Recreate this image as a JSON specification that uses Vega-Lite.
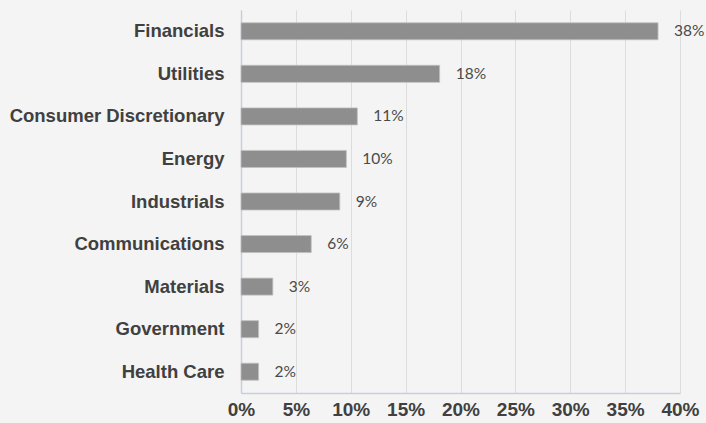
{
  "$schema": "https://vega.github.io/schema/vega-lite/v6.json",
  "autosize": {"type": "none"},
  "width": 439,
  "height": 383,
  "padding": {"left": 241, "top": 10, "right": 26, "bottom": 30},
  "background": "#f4f4f4",
  "config": {"view": {"stroke": null}},
  "data": {"values": [
    {"sector": "Financials", "value": 0.380},
    {"sector": "Utilities", "value": 0.181},
    {"sector": "Consumer Discretionary", "value": 0.106},
    {"sector": "Energy", "value": 0.096},
    {"sector": "Industrials", "value": 0.090},
    {"sector": "Communications", "value": 0.064},
    {"sector": "Materials", "value": 0.029},
    {"sector": "Government", "value": 0.016},
    {"sector": "Health Care", "value": 0.016}
  ]},
  "encoding": {
    "y": {"field": "sector", "type": "nominal", "sort": null, "title": null,
      "scale": {"paddingInner": 0.6, "paddingOuter": 0.3},
      "axis": {"labelFont": "Liberation Sans", "labelFontWeight": "bold", "labelFontSize": 18.5, "labelColor": "#404040", "labelPadding": 17, "labelLimit": 400, "ticks": false, "domain": true, "domainColor": "#c5d0dc", "domainWidth": 1.5}},
    "x": {"field": "value", "type": "quantitative", "title": null,
      "scale": {"domain": [0, 0.4], "nice": false},
      "axis": {"format": ".0%", "values": [0, 0.05, 0.1, 0.15, 0.2, 0.25, 0.3, 0.35, 0.4], "labelFont": "Liberation Sans", "labelFontWeight": "bold", "labelFontSize": 19, "labelColor": "#404040", "labelPadding": 7, "ticks": false, "domainColor": "#c5d0dc", "domainWidth": 1.5, "grid": true, "gridColor": "#dcdcdc", "gridWidth": 1, "labelFlush": false}}
  },
  "layer": [
    {"mark": {"type": "bar", "color": "#8e8e8e", "stroke": "#c0c0c0", "strokeWidth": 0.8}},
    {"mark": {"type": "text", "align": "left", "baseline": "middle", "dx": 16, "font": "Lato", "fontSize": 15.5, "color": "#4a4a4a"},
     "encoding": {"text": {"field": "value", "type": "quantitative", "format": ".0%"}}}
  ]
}
